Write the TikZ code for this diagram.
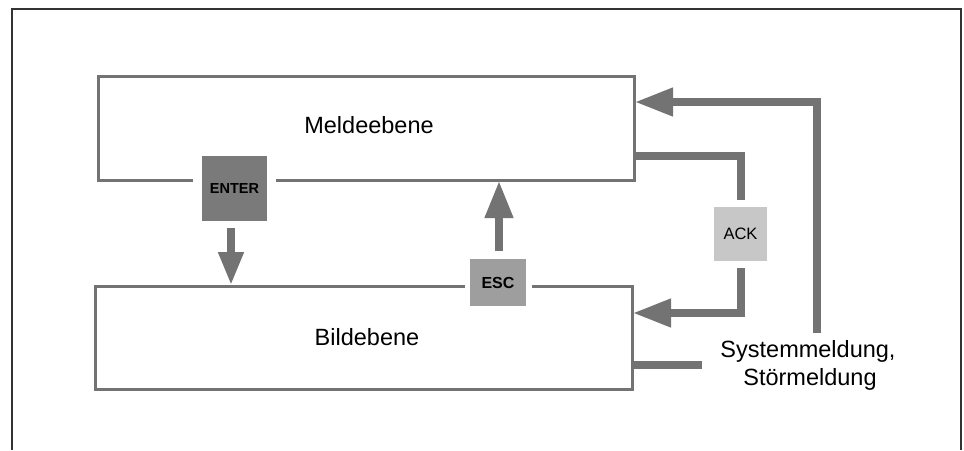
\documentclass[tikz,border=0pt]{standalone}
\usepackage{fontspec}
\setmainfont{Liberation Sans}
\usetikzlibrary{arrows.meta}
\definecolor{lin}{gray}{0.45}
\definecolor{frm}{gray}{0.2}
\tikzset{
  outline/.style={draw=lin, line width=3pt, line join=miter},
  conn/.style={draw=lin, line width=7.5pt, line join=miter},
  bigtip/.style={-{Triangle[length=38pt,width=27pt]}},
  keybox/.style={draw=none, inner sep=0pt, font=\fontsize{14.5}{16}\selectfont\bfseries},
  lbl/.style={inner sep=0pt, anchor=base, font=\fontsize{23.5}{28}\selectfont},
}
\begin{document}
\begin{tikzpicture}[x=1pt,y=-1pt]
\useasboundingbox (0,0) rectangle (964,450);
% outer frame (open at the bottom)
\draw[frm, line width=1.5pt] (12,450) -- (12,9) -- (961,9) -- (961,450);

% level boxes
\node[inner sep=0pt, minimum width=536pt, minimum height=104pt] (mbox) at (366,128) {};
\node[inner sep=0pt, minimum width=537pt, minimum height=103pt] (bbox) at (363.5,337.5) {};
\draw[outline] (193,180) -- (98,180) -- (98,76) -- (634,76) -- (634,180) -- (276,180);
\draw[outline] (465,286) -- (95,286) -- (95,389) -- (632,389) -- (632,286) -- (532,286);
\node[lbl] (melde) at (369,133) {Meldeebene};
\node[lbl] (bild) at (367,345) {Bildebene};

% keys
\node[keybox, fill=black!52, minimum width=65pt, minimum height=65pt] (enter) at (234.5,188.5) {ENTER};
\node[keybox, fill=black!38, minimum width=56pt, minimum height=47pt, font=\fontsize{16}{18}\selectfont\bfseries] (esc) at (498,282.5) {ESC};
\node[keybox, fill=black!22, minimum width=53pt, minimum height=54pt, font=\fontsize{16.5}{18}\selectfont] (ack) at (740.5,234) {ACK};

% connector end points
\coordinate (enterA) at (231,228);
\coordinate (enterB) at (231,285);
\coordinate (escA) at (499,251);
\coordinate (escB) at (499,181);
\coordinate (m1) at (634,156);
\coordinate (k1) at (741,156);
\coordinate (ackT) at (741,200);
\coordinate (ackB) at (741,268);
\coordinate (k2) at (741,313);
\coordinate (b1) at (633,313);
\coordinate (sysT) at (817,333);
\coordinate (k3) at (817,102);
\coordinate (m2) at (635,102);
\coordinate (b2) at (632,365);
\coordinate (s2) at (702,365);

% arrows
\draw[conn, -{Triangle[length=33pt,width=24pt]}] (enterA) -- (enterB);
\draw[conn, -{Triangle[length=37pt,width=27pt]}] (escA) -- (escB);
\draw[conn] (m1) -- (k1) -- (ackT);
\draw[conn, bigtip] (ackB) -- (k2) -- (b1);
\draw[conn, bigtip] (sysT) -- (k3) -- (m2);
\draw[conn] (b2) -- (s2);

% source label
\node[lbl] (sys1) at (808,357) {Systemmeldung,};
\node[lbl] (sys2) at (810,385) {Störmeldung};
\end{tikzpicture}
\end{document}
